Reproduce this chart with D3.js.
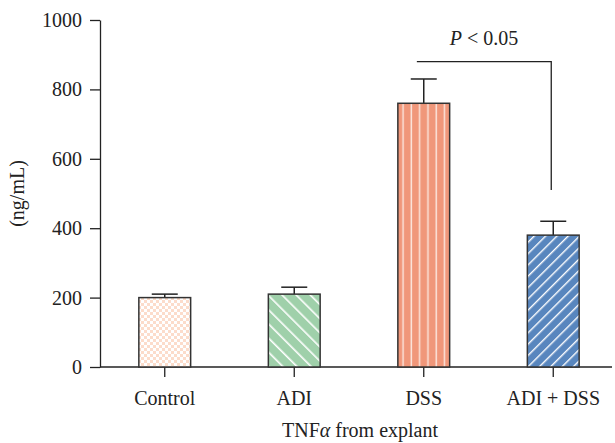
<!DOCTYPE html>
<html>
<head>
<meta charset="utf-8">
<script src="https://cdn.jsdelivr.net/npm/d3@7"></script>
<style>
  body { margin: 0; background: #fff; }
  text { font-family: "Liberation Serif", "DejaVu Serif", serif; }
</style>
</head>
<body>
<div id="chart"></div>
<script>
var groups = ["Control", "ADI", "DSS", "ADI + DSS"];
var means = [200, 210, 760, 380];
var errors = [10, 20, 70, 40];
var yTicks = [0, 200, 400, 600, 800, 1000];
var fills = ["#ffffff", "#9fd0aa", "#f0977a", "#5886be"];
var patterns = ["pat-check", "pat-back", "pat-vert", "pat-fwd"];

var width = 615, height = 443;
var margin = { top: 20, left: 100, bottom: 76 };
var plotBottom = height - margin.bottom; // 367
var fontSize = "20px";

var svg = d3.select("#chart")
    .append("svg")
    .attr("width", width)
    .attr("height", height);

// patterns
var defs = svg.append("defs");

var chk = defs.append("pattern").attr("id", "pat-check")
    .attr("patternUnits", "userSpaceOnUse").attr("width", 6).attr("height", 6);
chk.append("rect").attr("width", 6).attr("height", 6).attr("fill", "#fff");
chk.append("rect").attr("width", 3).attr("height", 3).attr("fill", "#fcdccb");
chk.append("rect").attr("x", 3).attr("y", 3).attr("width", 3).attr("height", 3).attr("fill", "#fcdccb");

var back = defs.append("pattern").attr("id", "pat-back")
    .attr("patternUnits", "userSpaceOnUse").attr("width", 10).attr("height", 10)
    .attr("patternTransform", "rotate(-45)");
back.append("rect").attr("width", 10).attr("height", 10).attr("fill", fills[1]);
back.append("rect").attr("width", 1.6).attr("height", 10).attr("fill", "#fff");

var vert = defs.append("pattern").attr("id", "pat-vert")
    .attr("patternUnits", "userSpaceOnUse").attr("width", 8.3).attr("height", 10)
    .attr("x", 139);
vert.append("rect").attr("width", 8.3).attr("height", 10).attr("fill", fills[2]);
vert.append("rect").attr("x", 6).attr("width", 1.5).attr("height", 10).attr("fill", "#fbe3da");

var fwd = defs.append("pattern").attr("id", "pat-fwd")
    .attr("patternUnits", "userSpaceOnUse").attr("width", 8).attr("height", 10)
    .attr("patternTransform", "rotate(45)");
fwd.append("rect").attr("width", 8).attr("height", 10).attr("fill", fills[3]);
fwd.append("rect").attr("width", 1.4).attr("height", 10).attr("fill", "#fff");

var x = d3.scaleBand()
    .domain(groups)
    .range([margin.left, 618])
    .paddingInner(0.6)
    .paddingOuter(0.3);

var y = d3.scaleLinear()
    .domain([0, 1000])
    .range([plotBottom, margin.top]);

// y axis
var yAxis = svg.append("g")
    .attr("transform", "translate(" + margin.left + ",0)")
    .call(d3.axisLeft(y).tickValues(yTicks).tickFormat(d3.format("d"))
        .tickSize(10).tickSizeOuter(0).tickPadding(8));
yAxis.select(".domain").attr("stroke", "#222").attr("stroke-width", 1.3);
yAxis.selectAll(".tick line").attr("stroke", "#222").attr("stroke-width", 1.3);
yAxis.selectAll("text").style("font-size", fontSize).attr("fill", "#222");

// x axis
var xAxis = svg.append("g")
    .attr("transform", "translate(0," + plotBottom + ")")
    .call(d3.axisBottom(x).tickSize(10).tickSizeOuter(0).tickPadding(14));
xAxis.select(".domain").remove();
xAxis.append("line").attr("x1", margin.left).attr("x2", 612)
    .attr("stroke", "#222").attr("stroke-width", 1.3);
xAxis.selectAll(".tick line").attr("stroke", "#222").attr("stroke-width", 1.3);
xAxis.selectAll("text").style("font-size", fontSize).attr("fill", "#222");

// error bars
var eb = svg.append("g");
groups.forEach(function(g, i) {
    var cx = x(g) + x.bandwidth() / 2;
    eb.append("line")
        .attr("x1", cx).attr("x2", cx)
        .attr("y1", y(means[i])).attr("y2", y(means[i] + errors[i]))
        .attr("stroke", "#222").attr("stroke-width", 1.5);
    eb.append("line")
        .attr("x1", cx - 13).attr("x2", cx + 13)
        .attr("y1", y(means[i] + errors[i])).attr("y2", y(means[i] + errors[i]))
        .attr("stroke", "#222").attr("stroke-width", 1.5);
});

// bars
svg.selectAll(".bar")
    .data(groups)
    .enter()
    .append("rect")
    .attr("class", "bar")
    .attr("x", function(d) { return x(d); })
    .attr("width", x.bandwidth())
    .attr("y", function(d, i) { return y(means[i]); })
    .attr("height", function(d, i) { return plotBottom - y(means[i]); })
    .attr("fill", function(d, i) { return "url(#" + patterns[i] + ")"; })
    .attr("stroke", "#333")
    .attr("stroke-width", 1.5);

// significance bracket
var bracketY = y(880);
var xL = x("DSS") + 19;
var xR = x("ADI + DSS") + x.bandwidth() / 2 - 2;
svg.append("path")
    .attr("d", "M" + xL + "," + bracketY + "H" + xR + "V" + y(510))
    .attr("fill", "none").attr("stroke", "#222").attr("stroke-width", 1.3);
var sig = svg.append("text")
    .attr("x", (xL + xR) / 2)
    .attr("y", bracketY - 17)
    .attr("text-anchor", "middle")
    .style("font-size", fontSize)
    .attr("fill", "#222");
sig.append("tspan").style("font-style", "italic").text("P");
sig.append("tspan").text(" < 0.05");

// axis titles
svg.append("text")
    .attr("transform", "translate(24," + (y(500)) + ") rotate(-90)")
    .attr("text-anchor", "middle")
    .style("font-size", fontSize)
    .attr("fill", "#222")
    .text("(ng/mL)");

var xt = svg.append("text")
    .attr("x", 360)
    .attr("y", 437)
    .attr("text-anchor", "middle")
    .style("font-size", fontSize)
    .attr("fill", "#222");
xt.append("tspan").text("TNF");
xt.append("tspan").style("font-style", "italic").text("α");
xt.append("tspan").text(" from explant");
</script>
</body>
</html>
